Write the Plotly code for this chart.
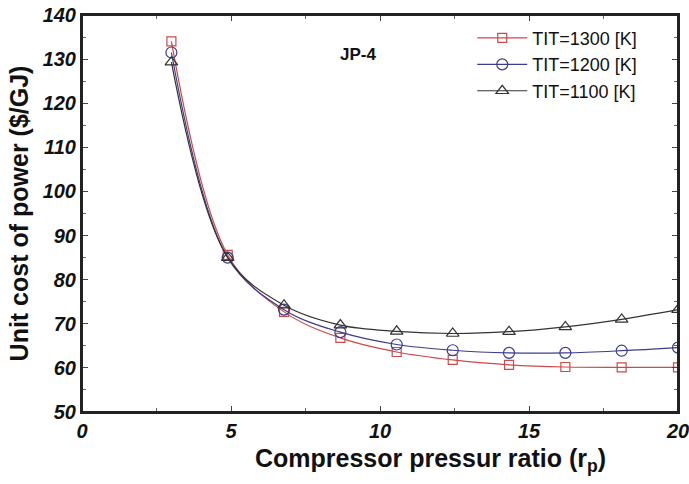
import plotly.graph_objects as go

rp = [3.0, 4.89, 6.78, 8.67, 10.56, 12.44, 14.33, 16.22, 18.11, 20.0]
tit_1300 = [134.0, 85.6, 72.7, 66.8, 63.6, 61.8, 60.7, 60.2, 60.1, 60.1]
tit_1200 = [131.5, 85.0, 73.2, 68.1, 65.3, 64.0, 63.4, 63.4, 63.9, 64.6]
tit_1100 = [129.3, 85.0, 74.2, 69.7, 68.3, 67.8, 68.2, 69.3, 71.0, 73.2]
series_names = ["TIT=1300 [K]", "TIT=1200 [K]", "TIT=1100 [K]"]
x_ticks = [0, 5, 10, 15, 20]
y_ticks = [50, 60, 70, 80, 90, 100, 110, 120, 130, 140]

colors = ["#cc4a4a", "#3c3c8c", "#333333"]
symbols = ["square-open", "circle-open", "triangle-up-open"]
sizes = [9, 11, 11]

fig = go.Figure()
for name, ys, c, s, sz in zip(series_names, [tit_1300, tit_1200, tit_1100], colors, symbols, sizes):
    fig.add_trace(go.Scatter(
        x=rp, y=ys, name=name, mode="lines+markers",
        line=dict(color=c, width=1.2, shape="spline", smoothing=1.0),
        marker=dict(symbol=s, size=sz, color=c, line=dict(width=1.2, color=c)),
        cliponaxis=True,
    ))

axis_common = dict(
    showline=True, linecolor="#222", linewidth=2, mirror="ticks",
    ticks="inside", ticklen=6, tickcolor="#444", tickwidth=1,
    showgrid=False, zeroline=False, automargin=False,
    ticklabeloverflow="allow",
    tickfont=dict(family="Liberation Sans, Arial", size=20, color="#111", weight="bold", style="italic"),
)

fig.update_xaxes(
    range=[0, 20], tickvals=x_ticks,
    minor=dict(ticks="inside", ticklen=4, dtick=2.5, tickcolor="#666"),
    **axis_common,
)
fig.update_yaxes(
    range=[50, 140], tickvals=y_ticks,
    minor=dict(ticks="inside", ticklen=4, dtick=5, tickcolor="#666"),
    title=dict(text="Unit cost of power ($/GJ)",
               font=dict(family="Liberation Sans, Arial", size=25, color="#111", weight="bold"),
               standoff=7),
    **axis_common,
)

# frame around the plotting area
fig.add_shape(type="rect", xref="paper", yref="paper", x0=0, x1=1, y0=0, y1=1,
              line=dict(color="#222", width=2), layer="above")

# x-axis title (offset to the right, as in the original figure)
fig.add_annotation(
    x=0.584, y=-0.122, xref="paper", yref="paper", xanchor="center", yanchor="middle",
    text="<b>Compressor pressur ratio (r<sub>p</sub>)</b>", showarrow=False,
    font=dict(family="Liberation Sans, Arial", size=25, color="#111"),
)

fig.add_annotation(
    x=0.463, y=0.9, xref="paper", yref="paper", xanchor="center", yanchor="middle",
    text="<b>JP-4</b>", showarrow=False,
    font=dict(family="Liberation Sans, Arial", size=17, color="#111"),
)

fig.update_layout(
    width=689, height=484,
    margin=dict(l=82, r=11, t=15, b=72),
    plot_bgcolor="white", paper_bgcolor="white",
    legend=dict(
        x=0.94, y=0.988, xanchor="right", yanchor="top",
        font=dict(family="Liberation Sans, Arial", size=18, color="#111"),
        bgcolor="rgba(0,0,0,0)", tracegroupgap=0, itemwidth=50,
    ),
    showlegend=True,
)

fig.write_html(
    "out.html",
    config={"displayModeBar": False},
    post_script="document.body.style.margin='0';document.body.style.overflow='hidden';",
)
